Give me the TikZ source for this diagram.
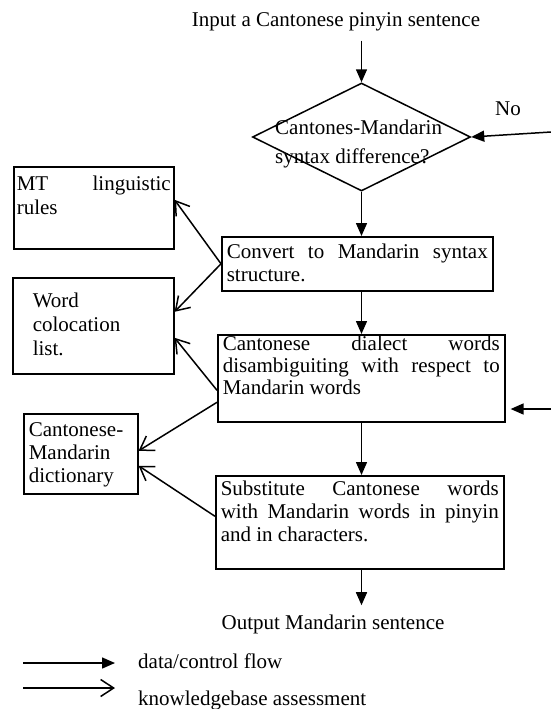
\documentclass[tikz,border=0pt]{standalone}
\usepackage{fontspec}
\setmainfont{Liberation Serif}
\usetikzlibrary{arrows.meta,shapes.geometric,calc}
\newcommand{\bxt}[5]{\parbox[c][#2][t]{#1}{\setlength{\baselineskip}{#4}\rule{0pt}{#3}#5\par}}
\newcommand{\jl}[1]{\hbox to \linewidth{#1}}
\begin{document}
\begin{tikzpicture}[x=1pt,y=-1pt,
  every node/.style={font=\fontsize{21pt}{23pt}\selectfont},
  bx/.style={draw, line width=1.6pt, anchor=north west, inner ysep=0pt},
  txt/.style={inner sep=0pt},
  fl/.style={-{Triangle[length=13pt,width=11pt]}, line width=1.5pt},
  kb/.style={-{Straight Barb[length=13pt,width=17pt]}, line width=1.5pt}]
\useasboundingbox (0,0) rectangle (551,709);

% title and decision
\node[txt, anchor=base] (title) at (336,27) {Input a Cantonese pinyin sentence};
\node[draw, diamond, line width=1.5pt, minimum width=218pt, minimum height=108pt, inner sep=0pt] (dec) at (361.5,137) {};
\node[txt, anchor=north west] (dectext) at (275,117) {\bxt{190pt}{50pt}{17pt}{29pt}{Cantones-Mandarin\\syntax difference?}};
\node[txt, anchor=base] (no) at (508,115) {No};

% process boxes
\node[bx, inner xsep=5pt] (conv) at (221,236) {\bxt{261pt}{54pt}{22pt}{23pt}{\jl{Convert\hfill to\hfill Mandarin\hfill syntax}\\structure.}};
\node[bx, inner xsep=5pt] (dis) at (217,334) {\bxt{277pt}{87pt}{16pt}{22pt}{\jl{Cantonese\hfill dialect\hfill words}\\\jl{disambiguiting\hfill with\hfill respect\hfill to}\\Mandarin words}};
\node[bx, inner xsep=5pt] (sub) at (215,475) {\bxt{278pt}{93pt}{20pt}{23pt}{\jl{Substitute\hfill Cantonese\hfill words}\\\jl{with\hfill Mandarin\hfill words\hfill in\hfill pinyin}\\and in characters.}};
\node[txt, anchor=base] (out) at (333,629) {Output Mandarin sentence};

% knowledge bases
\node[bx, inner xsep=3pt] (mt) at (13,166) {\bxt{154pt}{82pt}{24pt}{24pt}{\jl{MT\hfill linguistic}\\rules}};
\node[bx, inner xsep=0pt] (wc) at (12,277) {\bxt{161pt}{96pt}{30pt}{24pt}{\setlength{\leftskip}{20pt}Word\\colocation\\list.}};
\node[bx, inner xsep=5pt] (dict) at (23,413) {\bxt{104pt}{80pt}{23pt}{23pt}{Cantonese-\\Mandarin\\dictionary}};

% data/control flow
\draw[fl, shorten <=9pt] (dec.north |- title.south) -- (dec.north);
\draw[fl] (dec.south) -- (dec.south |- conv.north);
\draw[fl] (dec.south |- conv.south) -- (dec.south |- dis.north);
\draw[fl] (dec.south |- dis.south) -- (dec.south |- sub.north);
\draw[fl, shorten >=9pt] (dec.south |- sub.south) -- (dec.south |- out.north);
\coordinate (noin) at (551,132);
\draw[fl] (noin) -- (dec.east);
\coordinate (back) at (551,409);
\draw[fl, shorten >=5pt] (back) -- (back -| dis.east);

% knowledgebase assessment
\draw[kb] (conv.west) -- ([yshift=8pt]mt.east);
\draw[kb] (conv.west) -- ([yshift=14pt]wc.east);
\draw[kb] ([yshift=-12pt]dis.west) -- ([yshift=-12pt]wc.east);
\draw[kb] ([yshift=-24pt]dis.west) -- ([yshift=3pt]dict.east);
\draw[kb] ([yshift=6pt]sub.west) -- ([yshift=-12pt]dict.east);

% legend
\coordinate (l1a) at (23,663);
\coordinate (l1b) at (115,663);
\draw[fl] (l1a) -- (l1b);
\node[txt, anchor=base west] (lg1) at (138,668) {data/control flow};
\coordinate (l2a) at (23,688);
\coordinate (l2b) at (115,688);
\draw[kb] (l2a) -- (l2b);
\node[txt, anchor=base west] (lg2) at (138,705) {knowledgebase assessment};
\end{tikzpicture}
\end{document}
